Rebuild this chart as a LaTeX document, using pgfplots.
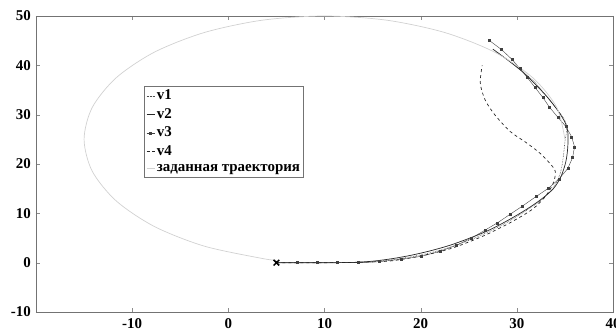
\documentclass[border=0pt]{standalone}
\usepackage{fontspec}
\setmainfont{Liberation Serif}
\usepackage{pgfplots}
\pgfplotsset{compat=1.18}
\begin{document}
\fontsize{15}{17}\selectfont\bfseries
\begin{tikzpicture}
\begin{axis}[
  scale only axis, width=577bp, height=296bp,
  xmin=-20, xmax=40, ymin=-10, ymax=50,
  xtick={-10,0,10,20,30,40}, ytick={-10,0,10,20,30,40,50},
  tick align=inside, major tick length=4bp,
  axis line style={black!55}, tick style={black!45},
  /pgf/number format/assume math mode=true,
  ticklabel style={font=\fontsize{15}{17}\selectfont\bfseries},
  xticklabel style={yshift=-1bp},
  legend style={at={(0.188,0.763)}, anchor=north west, draw=black!55, fill=white,
    font=\fontsize{15}{17}\selectfont\bfseries, inner sep=1.5pt, row sep=2.5pt,
    cells={anchor=west}},
  legend image code/.code={\draw[mark repeat=2,mark phase=2,#1] plot coordinates {(0bp,0bp) (4bp,0bp) (8bp,0bp)};},
]
% v1
\addplot[black!70, densely dotted, line width=0.6pt, smooth] coordinates {
(5,0) (10,0) (13,0.05) (15,0.2) (17,0.6) (19,1.2) (21,2) (23,3.1) (25,4.5) (27,6.2) (29,8.2) (31,10.6) (32.6,12.8) (33.8,15.2) (34.5,18) (34.8,21) (35,24.5) (35.2,27.5) (34.8,29.5) (34,31.5) (33,34) (32,36.3) (30.8,38.5) (29.5,40.5) (27.8,42.8)};
\addlegendentry{v1}
% v2
\addplot[black!85, line width=0.7pt, smooth] coordinates {
(5,0) (8,0) (11,0) (13,0.05) (15,0.3) (17,0.8) (19,1.5) (21,2.4) (23,3.5) (25,4.9) (27,6.5) (29,8.5) (31,10.8) (32.5,12.8) (33.8,15) (34.6,17.5) (35.1,20.5) (35.3,23.5) (35.3,26.5) (35,28.5) (34.2,31) (33.2,33.5) (32,36) (30.7,38.5) (29.3,40.7) (27.5,43.3)};
\addlegendentry{v2}
% v3
\addplot[black!75, line width=0.4pt, mark=square*, mark size=1pt, mark options={solid}] coordinates {
(5,0) (7.2,0) (9.2,0) (11.3,0) (13.55,0) (15.7,0.2) (18,0.7) (20.1,1.3) (22,2.3) (23.7,3.5) (25.3,5) (26.7,6.6) (28,8.1) (29.3,9.8) (30.6,11.5) (32,13.4) (33.3,15.1) (34.4,17) (35.3,19.1) (35.8,21.3) (36,23.5) (35.7,25.5) (35.1,27.6) (34.3,29.4) (33.4,31.5) (32.7,33.5) (31.9,35.5) (31.1,37.5) (30.3,39.4) (29.5,41.2) (28.4,43.2) (27.1,45.1)};
\addlegendentry{v3}
% v4
\addplot[black!85, dashed, line width=0.7pt, smooth] coordinates {
(5,0) (10,0) (13,0.05) (15,0.15) (17.1,0.4) (20.1,1.4) (23.2,2.9) (26.5,5.4) (29.3,8.1) (31.6,10.8) (33,13.5) (33.8,16.2) (34,18.5) (33.4,20.2) (32.4,22.2) (31,24.3) (29.3,26.6) (27.7,30) (26.7,33) (26.2,36.4) (26.4,40)};
\addlegendentry{v4}
% reference trajectory
\addplot[black!18, line width=0.7pt, smooth] coordinates {
(35,25) (34.15,31.47) (31.65,37.5) (27.68,42.68) (22.5,46.65) (16.47,49.15) (10,50) (3.53,49.15) (-2.5,46.65) (-7.68,42.68) (-11.65,37.5) (-14.15,31.47) (-15,25) (-14.15,18.53) (-11.65,12.5) (-7.68,7.32) (-2.5,3.35) (3.53,0.85) (5,0.5)};
\addlegendentry{заданная траектория}
\addplot[black, only marks, mark=x, mark size=4pt, line width=1.5pt, forget plot] coordinates {(5,0)};
\end{axis}
\pgfresetboundingbox
\path (current axis.south west) ++(-36bp,-20bp) coordinate (a);
\path (current axis.north east) ++(3bp,16bp) coordinate (b);
\useasboundingbox (a) rectangle (b);
\end{tikzpicture}
\end{document}
